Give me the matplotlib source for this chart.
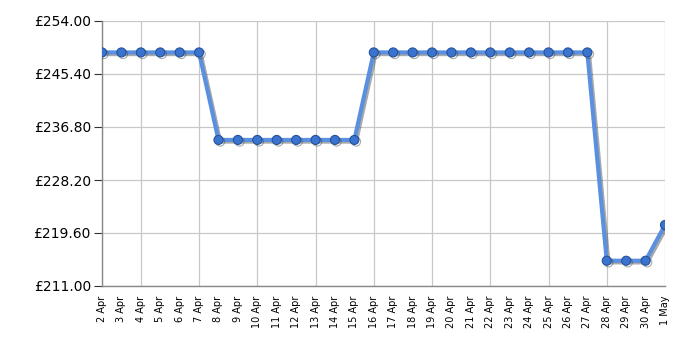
import numpy as np
import matplotlib.pyplot as plt
import matplotlib.patheffects as pe

# Price history, 2 Apr - 1 May
dates = ['2 Apr', '3 Apr', '4 Apr', '5 Apr', '6 Apr', '7 Apr', '8 Apr', '9 Apr',
         '10 Apr', '11 Apr', '12 Apr', '13 Apr', '14 Apr', '15 Apr', '16 Apr',
         '17 Apr', '18 Apr', '19 Apr', '20 Apr', '21 Apr', '22 Apr', '23 Apr',
         '24 Apr', '25 Apr', '26 Apr', '27 Apr', '28 Apr', '29 Apr', '30 Apr', '1 May']
prices = [248.9, 248.9, 248.9, 248.9, 248.9, 248.9,
          234.7, 234.7, 234.7, 234.7, 234.7, 234.7, 234.7, 234.7,
          248.9, 248.9, 248.9, 248.9, 248.9, 248.9, 248.9, 248.9, 248.9, 248.9,
          248.9, 248.9,
          215.1, 215.1, 215.1, 220.9]
yticks = [211.0, 219.6, 228.2, 236.8, 245.4, 254.0]

x = np.arange(len(dates))

fig = plt.figure(figsize=(7, 3.5), dpi=100)
ax = fig.add_axes([102 / 700, 1 - 286 / 350, 563 / 700, 265 / 350])

shadow = [pe.SimpleLineShadow(offset=(1.2, -1.2), shadow_color='#444444', alpha=0.45),
          pe.Normal()]
ax.plot(x, prices, color='#5b8fe0', lw=3, zorder=3, path_effects=shadow)
ax.plot(x, prices, ls='none', marker='o', ms=6.5, mfc='#3b74cf', mec='#24529c',
        mew=0.8, zorder=4, path_effects=shadow)

ax.set_xlim(0, len(dates) - 1)
ax.set_ylim(211, 254)
ax.set_yticks(yticks)
ax.set_yticklabels([f'£{v:.2f}' for v in yticks], fontsize=10)

ax.set_xticks(x)
ax.set_xticklabels(dates, rotation=90, fontsize=7)
# only every third day gets a tick mark and grid line
major = x[2::3]
ax.set_xticks(major, minor=True)
ax.tick_params(axis='x', which='major', length=0, pad=7)
ax.tick_params(axis='x', which='minor', length=5, color='#333333')
ax.tick_params(axis='y', length=6, color='#333333', pad=2)

ax.grid(False)
for v in yticks:
    ax.axhline(v, color='#c8c8c8', lw=0.9, zorder=1)
for v in list(major) + [0]:
    ax.axvline(v, color='#c8c8c8', lw=0.9, zorder=1)

for s in ['top', 'right']:
    ax.spines[s].set_visible(False)
for s in ['left', 'bottom']:
    ax.spines[s].set_color('#888888')
    ax.spines[s].set_linewidth(1)

fig.savefig('out.png', dpi=100)
